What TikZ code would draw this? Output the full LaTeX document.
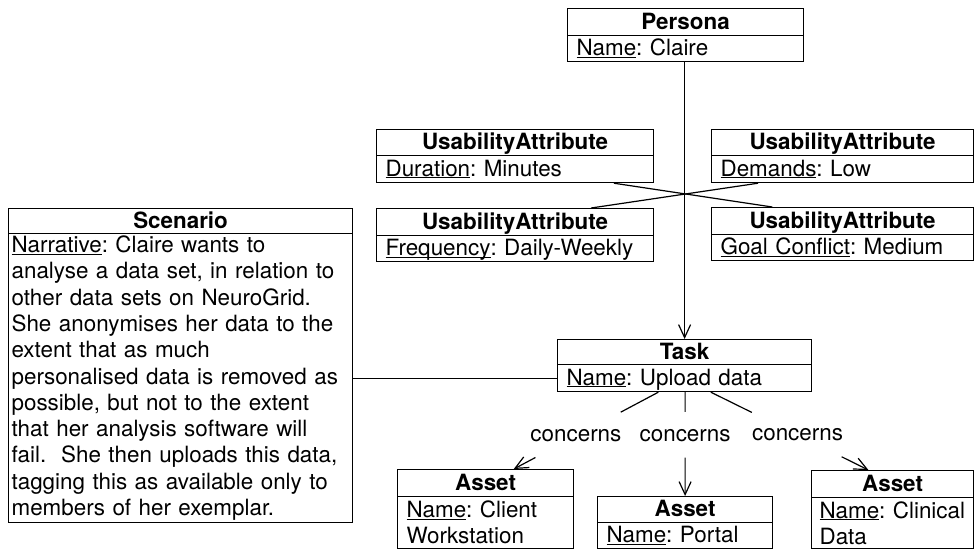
\documentclass[tikz,border=0pt]{standalone}
\usepackage{fontspec}
\setmainfont{TeX Gyre Heros}
\usetikzlibrary{arrows.meta,calc}
% attribute name underlined at a fixed distance below the baseline
\newcommand\attr[1]{\underline{\raisebox{0pt}[\height][0pt]{#1}}}
\begin{document}
\frenchspacing
\begin{tikzpicture}[x=1pt,y=-1pt,
  every node/.style={font=\fontsize{22.4}{26.3}\selectfont},
  box/.style={draw, line width=1.2pt, anchor=north west, inner sep=0pt},
  head/.style={box, font=\fontsize{22.4}{26.3}\selectfont\bfseries,
    text height=18pt, text depth=4pt},
  row/.style={box, align=left, inner xsep=9pt, text height=18pt, text depth=4pt},
  rows/.style={box, align=left, inner xsep=9pt},
  link/.style={line width=1.2pt},
  dep/.style={link, -{Straight Barb[length=13pt,width=12pt]}},
  rel/.style={inner sep=0pt},
]
\useasboundingbox (0,0) rectangle (975,550);

% Persona
\node[head, minimum width=236pt, minimum height=27pt] (persona) at (567,8) {Persona};
\node[row, minimum height=26pt, text width=218pt] (personab) at (567,35) {\attr{Name}: Claire};

% Usability attributes
\node[head, minimum width=277pt, minimum height=26pt] (dur) at (376,129) {UsabilityAttribute};
\node[row, minimum height=27pt, text width=259pt] (durb) at (376,155) {\attr{Duration}: Minutes};
\node[head, minimum width=277pt, minimum height=27pt] (freq) at (376,208) {UsabilityAttribute};
\node[row, minimum height=26pt, text width=259pt] (freqb) at (376,235) {\attr{Frequency}: Daily-Weekly};
\node[head, minimum width=262pt, minimum height=26pt] (dem) at (711,129) {UsabilityAttribute};
\node[row, minimum height=27pt, text width=244pt] (demb) at (711,155) {\attr{Demands}: Low};
\node[head, minimum width=262pt, minimum height=27pt] (goal) at (711,207) {UsabilityAttribute};
\node[row, minimum height=26pt, text width=244pt] (goalb) at (711,234) {\attr{Goal Conflict}: Medium};

% Scenario
\node[head, minimum width=344pt, minimum height=25pt] (scen) at (8,208) {Scenario};
\node[rows, inner xsep=3pt, minimum height=289pt, text width=338pt] (scenb) at (8,233)
  {\attr{Narrative}: Claire wants to\\
   analyse a data set, in relation to\\
   other data sets on NeuroGrid.\\
   She anonymises her data to the\\
   extent that as much\\
   personalised data is removed as\\
   possible, but not to the extent\\
   that her analysis software will\\
   fail.~~She then uploads this data,\\
   tagging this as available only to\\
   members of her exemplar.};

% Task
\node[head, minimum width=254pt, minimum height=25pt] (task) at (557,339) {Task};
\node[row, minimum height=27pt, text width=236pt] (taskb) at (557,364) {\attr{Name}: Upload data};

% Assets
\node[head, minimum width=176pt, minimum height=27pt] (client) at (397,469) {Asset};
\node[rows, minimum height=52pt, text width=158pt] (clientb) at (397,496) {\attr{Name}:~Client\\Workstation};
\node[head, minimum width=175pt, minimum height=26pt] (portal) at (597,496) {Asset};
\node[row, minimum height=26pt, text width=157pt] (portalb) at (597,522) {\attr{Name}: Portal};
\node[head, minimum width=162pt, minimum height=27pt] (clin) at (811,470) {Asset};
\node[rows, minimum height=51pt, text width=146pt, inner xsep=8pt] (clinb) at (811,497) {\attr{Name}:~Clinical\\Data};

% Persona performs task
\draw[dep] (personab.south -| task.north) -- (task.north);

% usability attributes of the persona/task link
\draw[link] ($(durb.south west)!0.855!(durb.south east)$) -- ($(goal.north west)!0.233!(goal.north east)$);
\draw[link] ($(demb.south west)!0.179!(demb.south east)$) -- ($(freq.north west)!0.773!(freq.north east)$);

% scenario of the task
\draw[link] (scenb.east) -- (taskb.west);

% task concerns assets
\coordinate (c1s) at ($(taskb.south west)!0.397!(taskb.south east)$);
\coordinate (c1e) at ($(client.north west)!0.659!(client.north east)$);
\draw[link] (c1s) -- ($(c1s)!0.26!(c1e)$);
\node[rel] (l1) at ($(c1s)!0.57!(c1e)$) {concerns};
\draw[dep] ($(c1s)!0.85!(c1e)$) -- (c1e);

\coordinate (c2s) at (taskb.south -| portal.north);
\coordinate (c2e) at (portal.north);
\draw[link] (c2s) -- ($(c2s)!0.19!(c2e)$);
\node[rel] (l2) at ($(c2s)!0.42!(c2e)$) {concerns};
\draw[dep] ($(c2s)!0.63!(c2e)$) -- (c2e);

\coordinate (c3s) at ($(taskb.south west)!0.603!(taskb.south east)$);
\coordinate (c3e) at ($(clin.north west)!0.352!(clin.north east)$);
\draw[link] (c3s) -- ($(c3s)!0.26!(c3e)$);
\node[rel] (l3) at ($(c3s)!0.55!(c3e)$) {concerns};
\draw[dep] ($(c3s)!0.83!(c3e)$) -- (c3e);
\end{tikzpicture}
\end{document}
